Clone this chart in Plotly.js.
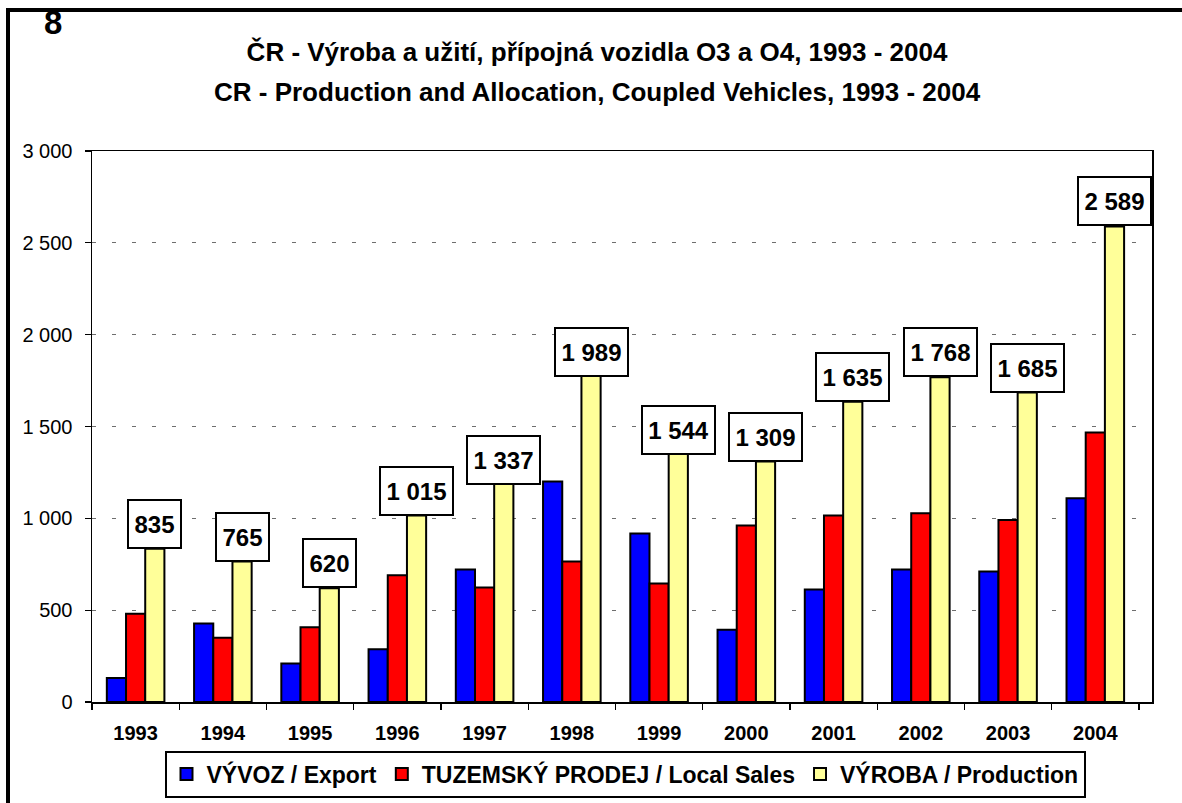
<!DOCTYPE html>
<html>
<head>
<meta charset="utf-8">
<script src="https://cdn.plot.ly/plotly-3.0.1.min.js"></script>
<style>html,body{margin:0;padding:0;background:#fff;}#chart{width:1182px;height:803px;}</style>
</head>
<body>
<div id="chart"></div>
<script>
// ---- data ----
const years = ['1993','1994','1995','1996','1997','1998','1999','2000','2001','2002','2003','2004'];
const exportVals = [130, 427, 210, 287, 721, 1201, 917, 394, 612, 721, 710, 1110];
const localSales = [481, 350, 407, 690, 623, 765, 645, 961, 1016, 1027, 991, 1468];
const production = [835, 765, 620, 1015, 1337, 1989, 1544, 1309, 1635, 1768, 1685, 2589];
const seriesNames = ['VÝVOZ / Export', 'TUZEMSKÝ PRODEJ / Local Sales', 'VÝROBA / Production'];
const titleLine1 = 'ČR - Výroba a užití, přípojná vozidla O3 a O4, 1993 - 2004';
const titleLine2 = 'CR - Production and Allocation, Coupled Vehicles, 1993 - 2004';
const chartNumber = '8';

// ---- layout constants ----
const W = 1182, H = 803;
const M = {l: 92, r: 30, t: 151, b: 101};
const plotW = W - M.l - M.r, plotH = H - M.t - M.b;
const bargap = 0.34;
// labels that were dragged down onto the bar top in the original (pixel shift)
const labelShift = {'1997': -29, '1998': -40, '1999': -37};
const labelFont = 24;

const fmt = v => String(v).replace(/\B(?=(\d{3})+(?!\d))/g, ' ');
const px2x = p => (p - M.l) / plotW;
const px2y = p => (H - M.b - p) / plotH;
// approximate text width of a bold Arial number label
const labelWidth = s => {
  let w = 0;
  for (const c of s) w += (c === ' ' ? 0.278 : 0.556) * labelFont;
  return Math.round(w + 11);
};

const F = 'Arial, "Liberation Sans", sans-serif';
const colors = ['#0000FF', '#FF0000', '#FFFF99'];
const vals = [exportVals, localSales, production];

const traces = vals.map((v, i) => ({
  type: 'bar',
  x: years,
  y: v,
  name: seriesNames[i],
  marker: {color: colors[i], line: {color: '#000', width: 2}},
  hoverinfo: 'x+y+name'
}));

const annotations = production.map((v, i) => ({
  x: i + (1 - bargap) / 3,
  y: v,
  xref: 'x', yref: 'y',
  text: '<b>' + fmt(v) + '</b>',
  showarrow: false,
  yanchor: 'bottom',
  xanchor: 'center',
  yshift: labelShift[years[i]] || 0,
  font: {family: F, size: labelFont, color: '#000'},
  bgcolor: '#fff',
  bordercolor: '#000',
  borderwidth: 2,
  borderpad: 0,
  width: labelWidth(fmt(v)),
  height: 46
}));

annotations.push({
  xref: 'paper', yref: 'paper',
  x: px2x(597), y: px2y(92), xanchor: 'center', yanchor: 'middle',
  text: '<b>' + titleLine2 + '</b>', showarrow: false,
  font: {family: F, size: 26, color: '#000'}
});
annotations.push({
  xref: 'paper', yref: 'paper',
  x: px2x(53), y: px2y(23), xanchor: 'center', yanchor: 'middle',
  text: '<b>' + chartNumber + '</b>', showarrow: false,
  font: {family: F, size: 33, color: '#000'}
});

const layout = {
  width: W, height: H,
  margin: M,
  paper_bgcolor: '#fff',
  plot_bgcolor: '#fff',
  separators: ', ',
  barmode: 'group',
  bargap: bargap,
  bargroupgap: 0,
  title: {
    text: '<b>' + titleLine1 + '</b>',
    font: {family: F, size: 26, color: '#000'},
    x: 597 / W, xref: 'container', xanchor: 'center',
    y: 1 - 52 / H, yref: 'container', yanchor: 'middle'
  },
  xaxis: {
    type: 'category',
    showline: true, linecolor: '#000', linewidth: 1.5, mirror: true,
    ticks: 'outside', tickson: 'boundaries', ticklen: 6, tickcolor: '#000', tickwidth: 1.2,
    tickfont: {family: F, size: 20, color: '#000', weight: 'bold'},
    ticklabelstandoff: 12,
    showgrid: false, zeroline: false, fixedrange: true
  },
  yaxis: {
    range: [0, 3000], dtick: 500, tick0: 0,
    separatethousands: true,
    showline: true, linecolor: '#000', linewidth: 1.5, mirror: true,
    ticks: 'outside', ticklen: 6, tickcolor: '#000', tickwidth: 1.2,
    tickfont: {family: F, size: 20, color: '#000'},
    ticklabelstandoff: 8,
    showgrid: true, gridcolor: '#6e6e6e', gridwidth: 1.2, griddash: '4px,16px',
    zeroline: false, fixedrange: true
  },
  legend: {
    orientation: 'h',
    xref: 'container', yref: 'container',
    x: 625 / W, xanchor: 'center',
    y: 1 - 774 / H, yanchor: 'middle',
    bgcolor: '#fff', bordercolor: '#000', borderwidth: 2,
    font: {family: F, size: 23, color: '#000', weight: 'bold'},
    traceorder: 'normal', itemclick: false, itemdoubleclick: false
  },
  annotations: annotations,
  shapes: [{
    type: 'rect', xref: 'paper', yref: 'paper',
    x0: px2x(8), x1: px2x(W + 40), y0: px2y(H + 40), y1: px2y(10),
    line: {color: '#000', width: 4}, fillcolor: 'rgba(0,0,0,0)', layer: 'above'
  }],
  showlegend: true
};

Plotly.newPlot('chart', traces, layout, {displayModeBar: false, staticPlot: true});
</script>
</body>
</html>
